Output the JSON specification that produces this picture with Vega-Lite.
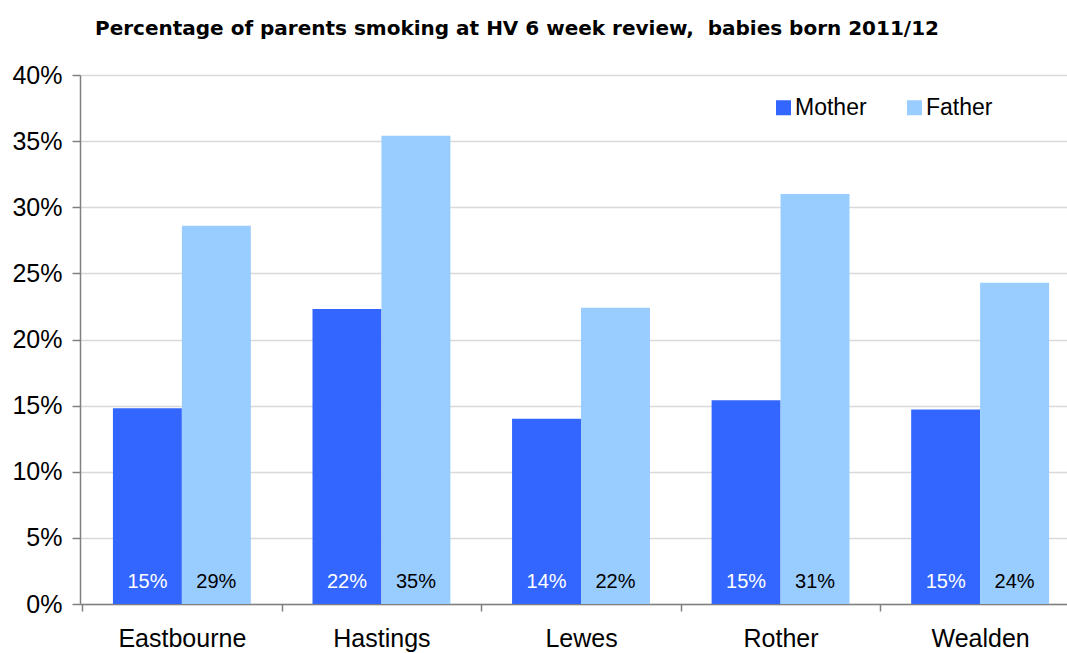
{
  "$schema": "https://vega.github.io/schema/vega-lite/v6.json",
  "width": 987,
  "height": 529,
  "autosize": {"type": "none"},
  "padding": {"left": 80, "top": 75, "right": 0, "bottom": 49},
  "background": "white",
  "config": {
    "font": "Liberation Sans",
    "view": {"stroke": null}
  },
  "title": {
    "text": "Percentage of parents smoking at HV 6 week review,\u00a0\u00a0babies born 2011/12",
    "font": "DejaVu Sans",
    "fontSize": 20,
    "fontWeight": "bold",
    "color": "black",
    "anchor": "start",
    "frame": "group",
    "dx": 15,
    "offset": 24
  },
  "data": {
    "values": [
      {"district": "Eastbourne", "parent": "Mother", "value": 0.148},
      {"district": "Eastbourne", "parent": "Father", "value": 0.286},
      {"district": "Hastings", "parent": "Mother", "value": 0.223},
      {"district": "Hastings", "parent": "Father", "value": 0.354},
      {"district": "Lewes", "parent": "Mother", "value": 0.140},
      {"district": "Lewes", "parent": "Father", "value": 0.224},
      {"district": "Rother", "parent": "Mother", "value": 0.154},
      {"district": "Rother", "parent": "Father", "value": 0.310},
      {"district": "Wealden", "parent": "Mother", "value": 0.147},
      {"district": "Wealden", "parent": "Father", "value": 0.243}
    ]
  },
  "encoding": {
    "x": {
      "field": "district",
      "type": "nominal",
      "sort": null,
      "scale": {"range": [0, 1002], "paddingInner": 0.309, "paddingOuter": 0.165},
      "axis": {
        "title": null,
        "labelAngle": 0,
        "labelFontSize": 25,
        "labelColor": "black",
        "labelPadding": 15,
        "tickOffset": -99.8,
        "labelOffset": 99.8,
        "tickSize": 7,
        "tickColor": "#808080",
        "tickWidth": 1.5,
        "domainColor": "#808080",
        "domainWidth": 1.5,
        "grid": false
      }
    },
    "xOffset": {"field": "parent", "type": "nominal", "sort": ["Mother", "Father"], "scale": {"paddingInner": 0, "paddingOuter": 0}}
  },
  "layer": [
    {
      "mark": {"type": "bar"},
      "encoding": {
        "y": {
          "field": "value",
          "type": "quantitative",
          "scale": {"domain": [0, 0.4]},
          "axis": {
            "title": null,
            "format": ".0%",
            "values": [0, 0.05, 0.1, 0.15, 0.2, 0.25, 0.3, 0.35, 0.4],
            "labelFontSize": 25,
            "labelColor": "black",
            "labelPadding": 10,
            "tickSize": 8,
            "tickColor": "#808080",
            "tickWidth": 1.5,
            "domainColor": "#808080",
            "domainWidth": 1.5,
            "gridColor": "#d9d9d9",
            "gridWidth": 1.5
          }
        },
        "color": {
          "field": "parent",
          "type": "nominal",
          "sort": ["Mother", "Father"],
          "scale": {"domain": ["Mother", "Father"], "range": ["#3366FF", "#99CCFF"]},
          "legend": {
            "title": null,
            "orient": "none",
            "direction": "horizontal",
            "legendX": 692,
            "legendY": 21,
            "symbolType": "square",
            "symbolSize": 225,
            "symbolStrokeWidth": 0,
            "labelFontSize": 23,
            "labelColor": "black",
            "labelOffset": 0,
            "columnPadding": 36
          }
        }
      }
    },
    {
      "mark": {"type": "text", "fontSize": 20, "baseline": "middle", "align": "center"},
      "encoding": {
        "y": {"datum": 0.0165, "type": "quantitative"},
        "text": {"field": "value", "type": "quantitative", "format": ".0%"},
        "color": {
          "condition": {"test": "datum.parent === 'Mother'", "value": "white"},
          "value": "black"
        }
      }
    }
  ]
}
